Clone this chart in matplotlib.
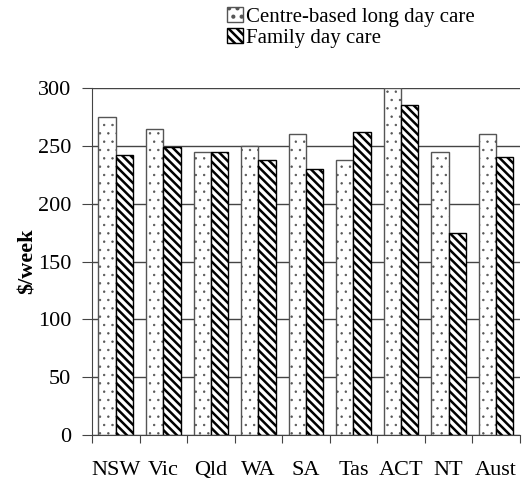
import numpy as np
import matplotlib
matplotlib.use("Agg")
import matplotlib.pyplot as plt

# dane
regions = ["NSW", "Vic", "Qld", "WA", "SA", "Tas", "ACT", "NT", "Aust"]
centre_based = [275, 265, 245, 250, 260, 238, 300, 245, 260]
family_day = [242, 249, 245, 238, 230, 262, 285, 175, 240]

plt.rcParams["font.family"] = ["Liberation Serif", "DejaVu Serif"]

fig = plt.figure(figsize=(5.23, 4.79), dpi=100)
ax = fig.add_axes([0.176, 0.092, 0.818, 0.724])

x = np.arange(len(regions))
w = 0.365

ax.set_axisbelow(True)
ax.yaxis.grid(True, color="#444444", linewidth=1)

# kropki - cienka linia kreskowania
plt.rcParams["hatch.linewidth"] = 0.5
b1 = ax.bar(x - w / 2, centre_based, w, color="white", edgecolor="#555555",
            hatch="..", linewidth=1, label="Centre-based long day care")
# ukosne paski - gruba linia
plt.rcParams["hatch.linewidth"] = 1.8
b2 = ax.bar(x + w / 2, family_day, w, color="white", edgecolor="black",
            hatch="\\\\\\\\", linewidth=1, label="Family day care")

ax.set_xlim(-0.5, len(regions) - 0.5)
ax.set_ylim(0, 300)
ax.set_yticks(np.arange(0, 301, 50))
ax.set_xticks(np.arange(-0.5, len(regions), 1))
ax.set_xticklabels([])
ax.set_xticks(x, minor=True)
ax.set_xticklabels(regions, minor=True, fontsize=16)
ax.tick_params(axis="x", which="minor", length=0, pad=19)
ax.tick_params(axis="x", which="major", length=6, direction="out", color="#444444")
ax.tick_params(axis="y", labelsize=16, length=7, pad=8, color="#444444")

for s in ["top", "right"]:
    ax.spines[s].set_visible(False)
ax.spines["left"].set_color("#444444")
ax.spines["bottom"].set_color("#444444")

ax.set_ylabel("$/week", fontsize=16, fontweight="bold", labelpad=0)

fig.legend(handles=[b1, b2], loc="upper left", bbox_to_anchor=(0.41, 1.012),
           frameon=False, fontsize=15, handlelength=0.75, handleheight=0.75,
           handletextpad=0.15, labelspacing=0.05, borderaxespad=0.2)

fig.savefig("out.png", dpi=100)
